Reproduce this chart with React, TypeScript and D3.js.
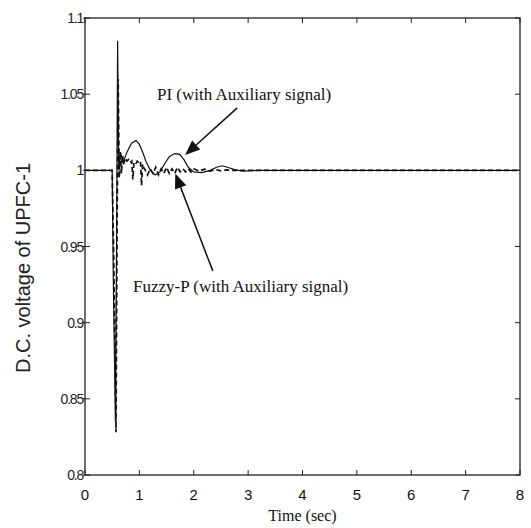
import React, { useRef, useEffect } from "react";
import * as d3 from "d3";

// time (sec), D.C. voltage — PI controller with auxiliary signal
const piSeries: [number, number][] = [
  [0, 1], [0.5, 1], [0.52, 0.93], [0.56, 0.835], [0.58, 0.95], [0.6, 1.085],
  [0.62, 1.0], [0.65, 1.012], [0.7, 1.005], [0.75, 1.01], [0.8, 1.014],
  [0.86, 1.018], [0.94, 1.0195], [1.0, 1.017], [1.06, 1.012], [1.12, 1.006],
  [1.2, 1.0], [1.29, 0.997], [1.38, 0.999], [1.46, 1.004], [1.55, 1.009],
  [1.65, 1.011], [1.74, 1.0105], [1.82, 1.007], [1.9, 1.002], [2.0, 0.999],
  [2.15, 0.9985], [2.3, 1.0], [2.42, 1.002], [2.52, 1.003], [2.62, 1.002],
  [2.75, 1.0005], [2.9, 0.9995], [3.2, 1.0], [4, 1.0], [5, 1.0], [6, 1.0],
  [7, 1.0], [8, 1.0],
];

// Fuzzy-P controller with auxiliary signal
const fuzzySeries: [number, number][] = [
  [0, 1], [0.5, 1], [0.53, 0.94], [0.57, 0.828], [0.59, 0.96], [0.61, 1.06],
  [0.63, 0.995], [0.65, 1.012], [0.67, 0.998], [0.69, 1.01], [0.71, 1.004],
  [0.74, 1.008], [0.77, 1.006], [0.8, 1.007], [0.83, 1.005], [0.86, 1.006],
  [0.88, 0.994], [0.9, 1.005], [0.93, 1.004], [0.96, 1.006], [0.99, 1.005],
  [1.02, 1.006], [1.04, 0.99], [1.06, 1.004], [1.08, 1.002], [1.11, 1.0],
  [1.15, 0.997], [1.2, 1.001], [1.25, 0.998], [1.3, 1.002], [1.35, 0.997],
  [1.4, 1.001], [1.45, 0.998], [1.5, 1.002], [1.55, 0.998], [1.6, 1.001],
  [1.65, 0.998], [1.7, 1.002], [1.75, 0.999], [1.8, 1.001], [1.85, 0.999],
  [1.9, 1.001], [1.95, 0.999], [2.0, 1.001], [2.1, 0.9995], [2.2, 1.0008],
  [2.3, 0.9995], [2.4, 1.0005], [2.5, 0.9997], [2.6, 1.0003], [2.7, 1.0],
  [2.8, 1.0], [3.0, 1.0], [3.5, 1.0], [4, 1.0], [5, 1.0], [6, 1.0], [7, 1.0],
  [8, 1.0],
];

const xTicks = [0, 1, 2, 3, 4, 5, 6, 7, 8];
const yTicks = [0.8, 0.85, 0.9, 0.95, 1, 1.05, 1.1];

const W = 531;
const H = 528;
const margin = { left: 85, right: 11, top: 18, bottom: 53 };

const App = () => {
  const ref = useRef<SVGSVGElement>(null);

  useEffect(() => {
    const svg = d3.select(ref.current);
    svg.selectAll("*").remove();

    const x = d3.scaleLinear().domain([0, 8]).range([margin.left, W - margin.right]);
    const y = d3.scaleLinear().domain([0.8, 1.1]).range([H - margin.bottom, margin.top]);

    svg.append("rect").attr("width", W).attr("height", H).attr("fill", "#fff");

    const line = d3
      .line<[number, number]>()
      .x((d) => x(d[0]))
      .y((d) => y(d[1]));

    svg.append("path")
      .datum(piSeries)
      .attr("d", line)
      .attr("fill", "none")
      .attr("stroke", "#111")
      .attr("stroke-width", 1.2);

    svg.append("path")
      .datum(fuzzySeries)
      .attr("d", line)
      .attr("fill", "none")
      .attr("stroke", "#111")
      .attr("stroke-width", 1.7)
      .attr("stroke-dasharray", "5,3");

    // axis box
    svg.append("rect")
      .attr("x", x(0))
      .attr("y", y(1.1))
      .attr("width", x(8) - x(0))
      .attr("height", y(0.8) - y(1.1))
      .attr("fill", "none")
      .attr("stroke", "#222")
      .attr("stroke-width", 1.3);

    const tk = 5;
    const g = svg.append("g").attr("stroke", "#222").attr("stroke-width", 1);
    xTicks.forEach((t) => {
      g.append("line").attr("x1", x(t)).attr("x2", x(t)).attr("y1", y(0.8)).attr("y2", y(0.8) - tk);
      g.append("line").attr("x1", x(t)).attr("x2", x(t)).attr("y1", y(1.1)).attr("y2", y(1.1) + tk);
    });
    yTicks.forEach((v) => {
      g.append("line").attr("x1", x(0) - 2).attr("x2", x(0) + tk).attr("y1", y(v)).attr("y2", y(v));
      g.append("line").attr("x1", x(8)).attr("x2", x(8) - tk).attr("y1", y(v)).attr("y2", y(v));
    });

    svg.append("g")
      .selectAll("text")
      .data(xTicks)
      .join("text")
      .attr("x", (d) => x(d))
      .attr("y", y(0.8) + 25)
      .attr("text-anchor", "middle")
      .attr("font-family", "Arial, 'Liberation Sans', sans-serif")
      .attr("font-size", 15)
      .attr("fill", "#111")
      .text((d) => d);

    svg.append("g")
      .selectAll("text")
      .data(yTicks)
      .join("text")
      .attr("x", x(0) - 2)
      .attr("y", (d) => y(d) + 5)
      .attr("text-anchor", "end")
      .attr("font-family", "Arial, 'Liberation Sans', sans-serif")
      .attr("font-size", 14)
      .attr("letter-spacing", -1.2)
      .attr("fill", "#222")
      .text((d) => d);

    svg.append("text")
      .attr("x", (x(0) + x(8)) / 2)
      .attr("y", H - 7)
      .attr("text-anchor", "middle")
      .attr("font-family", "'Liberation Serif', 'Times New Roman', serif")
      .attr("font-size", 16)
      .attr("fill", "#111")
      .text("Time (sec)");

    svg.append("text")
      .attr("transform", `translate(30,268) rotate(-90)`)
      .attr("text-anchor", "middle")
      .attr("font-family", "Arial, 'Liberation Sans', sans-serif")
      .attr("font-size", 20)
      .attr("fill", "#222")
      .text("D.C. voltage of UPFC-1");

    // annotations
    const serif = "'Liberation Serif', 'Times New Roman', serif";
    svg.append("text")
      .attr("x", 157).attr("y", 100)
      .attr("font-family", serif).attr("font-size", 17).attr("fill", "#111")
      .text("PI (with Auxiliary signal)");
    svg.append("text")
      .attr("x", 133).attr("y", 292)
      .attr("font-family", serif).attr("font-size", 17).attr("fill", "#111")
      .text("Fuzzy-P (with Auxiliary signal)");

    const arrow = (x1: number, y1: number, x2: number, y2: number) => {
      const a = Math.atan2(y2 - y1, x2 - x1);
      const L = 15, w = 6;
      const bx = x2 - L * Math.cos(a), by = y2 - L * Math.sin(a);
      svg.append("line")
        .attr("x1", x1).attr("y1", y1).attr("x2", bx).attr("y2", by)
        .attr("stroke", "#111").attr("stroke-width", 1.5);
      svg.append("path")
        .attr("d", `M${x2},${y2}L${bx + w * Math.sin(a)},${by - w * Math.cos(a)}L${bx - w * Math.sin(a)},${by + w * Math.cos(a)}Z`)
        .attr("fill", "#111");
    };
    arrow(x(2.8), y(1.041), x(1.84), y(1.010));
    arrow(x(2.35), y(0.934), x(1.66), y(0.998));
  }, []);

  return (
    <svg
      ref={ref}
      width={W}
      height={H}
      style={{ position: "absolute", left: 0, top: 0 }}
    />
  );
};

export default App;
